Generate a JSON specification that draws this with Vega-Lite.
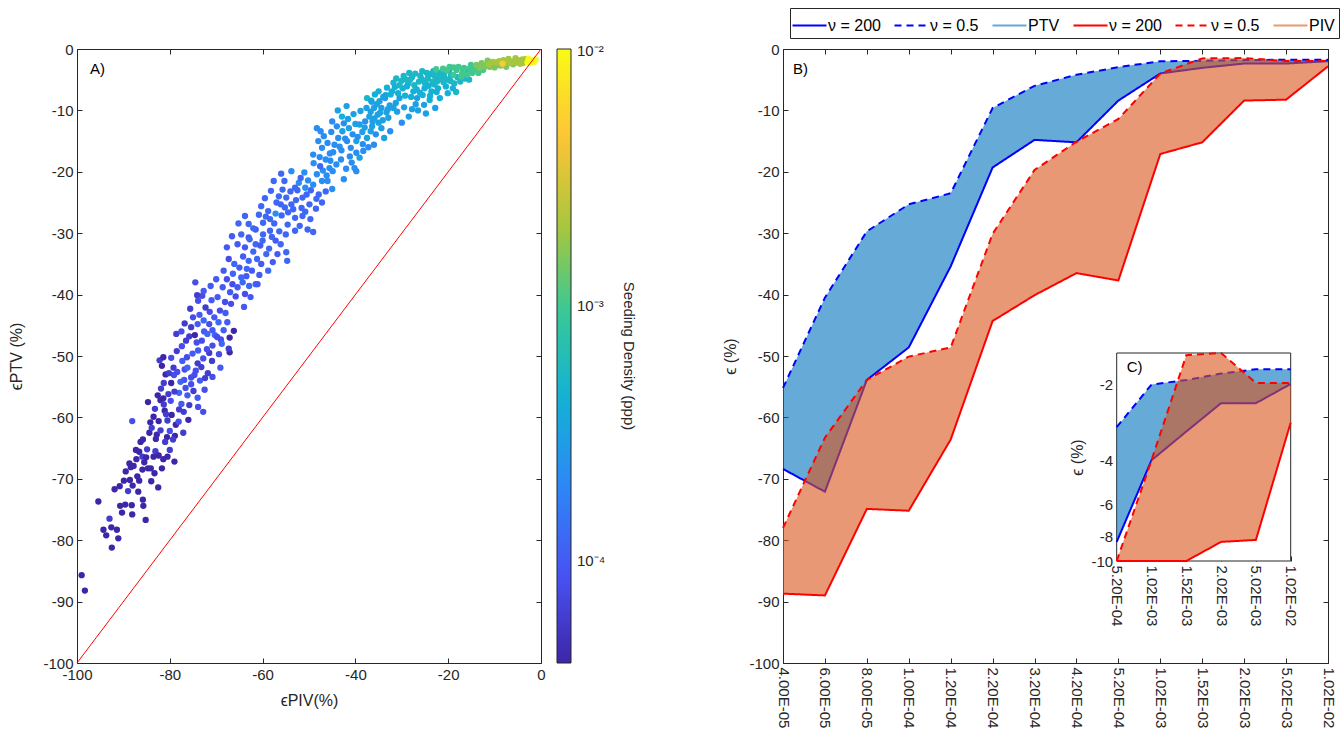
{
"$schema": "https://vega.github.io/schema/vega-lite/v6.json",
"autosize": {"type": "pad"},
"padding": {"left": 8, "top": 7, "right": 5, "bottom": 5},
"background": "white",
"config": {
  "font": "Liberation Sans",
  "view": {"stroke": "#262626", "strokeWidth": 1},
  "axis": {"grid": false, "domain": false, "labelFlush": false, "tickColor": "#262626", "tickSize": -5, "labelFont": "Liberation Sans", "labelFontSize": 15, "labelColor": "#262626", "labelPadding": 9, "titleFont": "Liberation Sans", "titleFontSize": 16, "titleFontWeight": "normal", "titleColor": "#262626"},
  "legend": {"labelFont": "Liberation Sans", "titleFont": "Liberation Sans"}
},
"datasets": {
  "bdata": [
    {"i":0,"c":"4.00E-05","PTV200":-68.4,"PTV05":-55.2,"PIV200":-88.7,"PIV05":-78.0},
    {"i":1,"c":"6.00E-05","PTV200":-72.1,"PTV05":-40.5,"PIV200":-89.0,"PIV05":-63.3},
    {"i":2,"c":"8.00E-05","PTV200":-53.9,"PTV05":-29.7,"PIV200":-74.9,"PIV05":-53.9},
    {"i":3,"c":"1.00E-04","PTV200":-48.6,"PTV05":-25.3,"PIV200":-75.2,"PIV05":-50.1},
    {"i":4,"c":"1.20E-04","PTV200":-35.4,"PTV05":-23.5,"PIV200":-63.6,"PIV05":-48.6},
    {"i":5,"c":"2.20E-04","PTV200":-19.3,"PTV05":-9.6,"PIV200":-44.3,"PIV05":-30.1},
    {"i":6,"c":"3.20E-04","PTV200":-14.8,"PTV05":-6.0,"PIV200":-40.1,"PIV05":-19.7},
    {"i":7,"c":"4.20E-04","PTV200":-15.2,"PTV05":-4.2,"PIV200":-36.5,"PIV05":-15.1},
    {"i":8,"c":"5.20E-04","PTV200":-8.4,"PTV05":-2.95,"PIV200":-37.7,"PIV05":-11.4},
    {"i":9,"c":"1.02E-03","PTV200":-3.99,"PTV05":-2.0,"PIV200":-17.1,"PIV05":-3.99},
    {"i":10,"c":"1.52E-03","PTV200":-3.07,"PTV05":-1.92,"PIV200":-15.2,"PIV05":-1.53},
    {"i":11,"c":"2.02E-03","PTV200":-2.37,"PTV05":-1.81,"PIV200":-8.4,"PIV05":-1.48},
    {"i":12,"c":"5.02E-03","PTV200":-2.37,"PTV05":-1.74,"PIV200":-8.25,"PIV05":-1.97},
    {"i":13,"c":"1.02E-02","PTV200":-1.99,"PTV05":-1.74,"PIV200":-2.83,"PIV05":-1.97}
  ]
},
"hconcat": [
{
  "width": 464, "height": 614,
  "layer": [
    {
      "data": {"values": [
{"x":-99.0,"y":-85.7,"d":4e-5},{"x":-98.3,"y":-88.2,"d":4e-5},{"x":-95.4,"y":-73.7,"d":4e-5},{"x":-94.3,"y":-78.3,"d":4e-5},{"x":-93.7,"y":-79.2,"d":4e-5},{"x":-93.0,"y":-76.5,"d":6e-5},{"x":-92.6,"y":-77.9,"d":4e-5},{"x":-92.5,"y":-81.2,"d":4e-5},{"x":-91.4,"y":-78.3,"d":4e-5},{"x":-91.1,"y":-79.7,"d":4e-5},{"x":-91.9,"y":-71.7,"d":4e-5},{"x":-90.7,"y":-74.4,"d":4e-5},{"x":-90.3,"y":-75.5,"d":4e-5},{"x":-89.9,"y":-70.3,"d":4e-5},{"x":-89.6,"y":-74.2,"d":4e-5},{"x":-89.0,"y":-72.0,"d":6e-5},{"x":-88.6,"y":-70.2,"d":4e-5},{"x":-88.2,"y":-74.3,"d":4e-5},{"x":-88.1,"y":-75.8,"d":4e-5},{"x":-88.0,"y":-71.1,"d":4e-5},{"x":-85.8,"y":-73.4,"d":4e-5},{"x":-85.7,"y":-74.4,"d":4e-5},{"x":-85.2,"y":-76.7,"d":4e-5},{"x":-82.5,"y":-71.4,"d":4e-5},{"x":-86.6,"y":-70.3,"d":4e-5},{"x":-85.9,"y":-68.5,"d":4e-5},{"x":-84.7,"y":-68.3,"d":4e-5},{"x":-84.1,"y":-68.3,"d":4e-5},{"x":-85.5,"y":-67.3,"d":4e-5},{"x":-87.2,"y":-66.8,"d":4e-5},{"x":-87.3,"y":-65.3,"d":4e-5},{"x":-86.6,"y":-65.6,"d":4e-5},{"x":-85.9,"y":-66.4,"d":6e-5},{"x":-88.7,"y":-67.5,"d":4e-5},{"x":-88.4,"y":-68.1,"d":4e-5},{"x":-87.8,"y":-67.9,"d":4e-5},{"x":-85.1,"y":-66.5,"d":4e-5},{"x":-83.5,"y":-66.4,"d":4e-5},{"x":-83.1,"y":-65.5,"d":6e-5},{"x":-82.4,"y":-66.2,"d":4e-5},{"x":-81.7,"y":-68.3,"d":4e-5},{"x":-81.4,"y":-66.8,"d":4e-5},{"x":-80.5,"y":-66.4,"d":4e-5},{"x":-80.0,"y":-65.3,"d":6e-5},{"x":-79.0,"y":-67.2,"d":4e-5},
{"x":-90.8,"y":-71.2,"d":4e-5},{"x":-89.5,"y":-68.8,"d":4e-5},{"x":-87.0,"y":-69.6,"d":4e-5},{"x":-86.3,"y":-64.0,"d":4e-5},{"x":-84.9,"y":-65.2,"d":6e-5},{"x":-84.2,"y":-60.8,"d":4e-5},{"x":-83.2,"y":-58.6,"d":6e-5},{"x":-82.8,"y":-62.8,"d":4e-5},{"x":-82.0,"y":-57.2,"d":4e-5},{"x":-81.9,"y":-55.3,"d":6e-5},{"x":-80.9,"y":-53.0,"d":4e-5},{"x":-80.3,"y":-56.2,"d":6e-5},{"x":-79.6,"y":-59.6,"d":4e-5},{"x":-78.9,"y":-63.0,"d":4e-5},{"x":-84.0,"y":-70.4,"d":4e-5},{"x":-86.8,"y":-72.1,"d":4e-5},{"x":-83.3,"y":-69.1,"d":4e-5},{"x":-80.6,"y":-63.2,"d":4e-5},
{"x":-88.1,"y":-60.6,"d":8e-5},{"x":-85.8,"y":-63.6,"d":4e-5},{"x":-84.4,"y":-62.5,"d":4e-5},{"x":-83.9,"y":-61.7,"d":6e-5},{"x":-83.5,"y":-59.9,"d":4e-5},{"x":-82.4,"y":-60.6,"d":4e-5},{"x":-82.0,"y":-62.1,"d":6e-5},{"x":-84.7,"y":-57.5,"d":4e-5},{"x":-82.6,"y":-56.4,"d":4e-5},{"x":-81.4,"y":-56.9,"d":4e-5},{"x":-81.3,"y":-57.9,"d":6e-5},{"x":-81.1,"y":-58.9,"d":4e-5},{"x":-80.5,"y":-60.5,"d":6e-5},{"x":-80.0,"y":-62.2,"d":8e-5},{"x":-79.3,"y":-63.6,"d":6e-5},{"x":-78.7,"y":-61.2,"d":4e-5},{"x":-78.1,"y":-60.7,"d":8e-5},{"x":-77.0,"y":-59.1,"d":6e-5},{"x":-76.0,"y":-60.4,"d":4e-5},{"x":-77.1,"y":-62.5,"d":6e-5},{"x":-79.8,"y":-57.3,"d":8e-5},{"x":-79.7,"y":-54.4,"d":4e-5},{"x":-81.3,"y":-54.4,"d":6e-5},{"x":-79.1,"y":-53.1,"d":8e-5},{"x":-79.2,"y":-51.9,"d":6e-5},{"x":-81.7,"y":-51.6,"d":4e-5},{"x":-82.2,"y":-50.7,"d":6e-5},{"x":-81.4,"y":-50.2,"d":4e-5},{"x":-79.7,"y":-50.3,"d":8e-5},{"x":-78.5,"y":-49.2,"d":6e-5},{"x":-77.3,"y":-50.8,"d":1e-4},{"x":-76.8,"y":-52.2,"d":8e-5},{"x":-77.7,"y":-54.2,"d":1.2e-4},{"x":-76.6,"y":-55.2,"d":8e-5},{"x":-76.2,"y":-56.4,"d":1e-4},{"x":-75.4,"y":-54.6,"d":8e-5},{"x":-74.9,"y":-55.7,"d":6e-5},{"x":-74.4,"y":-52.4,"d":8e-5},{"x":-74.0,"y":-56.8,"d":1e-4},{"x":-73.9,"y":-58.3,"d":8e-5},{"x":-72.8,"y":-59.1,"d":8e-5},{"x":-74.0,"y":-51.2,"d":6e-5},{"x":-72.8,"y":-50.4,"d":8e-5},{"x":-70.8,"y":-53.4,"d":8e-5},{"x":-69.1,"y":-51.9,"d":1e-4},{"x":-71.5,"y":-49.5,"d":6e-5},{"x":-67.1,"y":-49.4,"d":4e-5},{"x":-76.2,"y":-51.9,"d":1.2e-4},{"x":-75.4,"y":-53.5,"d":8e-5},{"x":-78.0,"y":-56.0,"d":1.2e-4},{"x":-77.5,"y":-57.8,"d":1e-4},{"x":-75.8,"y":-58.0,"d":6e-5},{"x":-73.5,"y":-54.0,"d":1e-4},{"x":-72.5,"y":-55.5,"d":8e-5},{"x":-71.8,"y":-52.8,"d":6e-5},{"x":-80.8,"y":-59.5,"d":6e-5},{"x":-83.0,"y":-63.5,"d":4e-5},{"x":-81.0,"y":-64.0,"d":6e-5},
{"x":-79.0,"y":-55.8,"d":6e-5},{"x":-78.4,"y":-52.6,"d":8e-5},{"x":-78.0,"y":-58.7,"d":6e-5},{"x":-77.4,"y":-48.4,"d":8e-5},{"x":-76.9,"y":-53.9,"d":1e-4},{"x":-76.3,"y":-50.2,"d":8e-5},{"x":-75.8,"y":-46.8,"d":6e-5},{"x":-75.1,"y":-49.6,"d":1e-4},{"x":-74.7,"y":-53.1,"d":8e-5},{"x":-74.2,"y":-47.8,"d":8e-5},{"x":-73.6,"y":-43.3,"d":1e-4},{"x":-73.2,"y":-51.8,"d":6e-5},{"x":-72.6,"y":-46.0,"d":1e-4},{"x":-72.0,"y":-48.9,"d":8e-5},{"x":-71.4,"y":-42.8,"d":8e-5},{"x":-70.9,"y":-50.8,"d":6e-5},{"x":-70.3,"y":-46.6,"d":1.2e-4},{"x":-69.7,"y":-40.4,"d":1e-4},{"x":-69.0,"y":-47.3,"d":8e-5},{"x":-68.6,"y":-38.8,"d":1e-4},{"x":-68.1,"y":-41.2,"d":8e-5},{"x":-67.6,"y":-44.5,"d":1e-4},{"x":-67.0,"y":-39.6,"d":1e-4},{"x":-66.4,"y":-36.6,"d":1.2e-4},{"x":-65.8,"y":-40.3,"d":8e-5},{"x":-65.0,"y":-35.6,"d":1e-4},{"x":-64.3,"y":-38.0,"d":1.2e-4},{"x":-63.5,"y":-37.0,"d":1e-4},{"x":-62.9,"y":-38.6,"d":1.2e-4},{"x":-71.2,"y":-38.6,"d":1e-4},{"x":-73.0,"y":-40.2,"d":8e-5},{"x":-76.8,"y":-44.7,"d":6e-5},{"x":-78.6,"y":-46.4,"d":6e-5},{"x":-80.2,"y":-52.8,"d":6e-5},{"x":-72.4,"y":-53.6,"d":6e-5},{"x":-69.4,"y":-49.7,"d":8e-5},{"x":-66.2,"y":-45.9,"d":4e-5},{"x":-70.0,"y":-37.5,"d":1e-4},
{"x":-74.5,"y":-38.0,"d":8e-5},{"x":-74.1,"y":-40.1,"d":6e-5},{"x":-72.7,"y":-39.4,"d":1e-4},{"x":-73.9,"y":-41.0,"d":8e-5},{"x":-72.3,"y":-42.1,"d":6e-5},{"x":-71.0,"y":-40.9,"d":1e-4},{"x":-75.6,"y":-42.3,"d":6e-5},{"x":-75.0,"y":-43.7,"d":8e-5},{"x":-74.0,"y":-44.8,"d":1e-4},{"x":-72.7,"y":-44.2,"d":1.2e-4},{"x":-71.5,"y":-44.8,"d":8e-5},{"x":-70.4,"y":-43.7,"d":1e-4},{"x":-69.2,"y":-42.6,"d":8e-5},{"x":-75.4,"y":-45.3,"d":6e-5},{"x":-74.6,"y":-46.6,"d":4e-5},{"x":-73.1,"y":-47.5,"d":8e-5},{"x":-71.9,"y":-46.4,"d":1.2e-4},{"x":-70.8,"y":-45.8,"d":1e-4},{"x":-69.8,"y":-46.9,"d":8e-5},{"x":-68.4,"y":-45.8,"d":1e-4},{"x":-67.3,"y":-48.8,"d":6e-5},{"x":-73.9,"y":-49.1,"d":1e-4},{"x":-70.8,"y":-48.3,"d":8e-5},{"x":-68.8,"y":-48.0,"d":1.2e-4},{"x":-67.1,"y":-47.0,"d":4e-5},{"x":-76.5,"y":-47.5,"d":6e-5},{"x":-77.5,"y":-46.0,"d":8e-5},{"x":-69.5,"y":-44.5,"d":1.2e-4},{"x":-68.0,"y":-43.0,"d":1e-4},
{"x":-67.7,"y":-32.3,"d":1e-4},{"x":-67.3,"y":-34.2,"d":8e-5},{"x":-68.4,"y":-36.1,"d":1e-4},{"x":-67.7,"y":-37.5,"d":8e-5},{"x":-66.1,"y":-35.0,"d":1.2e-4},{"x":-65.4,"y":-31.8,"d":1e-4},{"x":-64.6,"y":-30.2,"d":1.2e-4},{"x":-63.8,"y":-32.3,"d":1e-4},{"x":-63.0,"y":-34.5,"d":1.2e-4},{"x":-62.3,"y":-36.1,"d":1e-4},{"x":-61.5,"y":-38.3,"d":1.2e-4},{"x":-62.6,"y":-40.4,"d":1e-4},{"x":-63.8,"y":-39.9,"d":8e-5},{"x":-65.4,"y":-38.8,"d":1e-4},{"x":-66.5,"y":-38.3,"d":8e-5},{"x":-64.6,"y":-37.2,"d":1.2e-4},{"x":-65.2,"y":-28.4,"d":1.2e-4},{"x":-63.0,"y":-30.7,"d":1e-4},{"x":-61.5,"y":-31.8,"d":1.2e-4},{"x":-59.9,"y":-30.2,"d":1.2e-4},{"x":-58.4,"y":-29.6,"d":1.2e-4},{"x":-57.2,"y":-31.2,"d":1e-4},{"x":-56.1,"y":-31.8,"d":1.2e-4},{"x":-54.9,"y":-33.1,"d":1.2e-4},{"x":-54.7,"y":-34.5,"d":1.2e-4},{"x":-56.8,"y":-33.4,"d":1e-4},{"x":-59.2,"y":-33.4,"d":1.2e-4},{"x":-60.3,"y":-35.0,"d":1e-4},{"x":-58.8,"y":-36.1,"d":1.2e-4},{"x":-61.1,"y":-38.3,"d":1e-4},{"x":-59.9,"y":-28.3,"d":1.2e-4},{"x":-58.4,"y":-27.7,"d":1.2e-4},{"x":-61.5,"y":-29.4,"d":1e-4},{"x":-63.0,"y":-28.5,"d":1.2e-4},{"x":-66.8,"y":-41.5,"d":8e-5},{"x":-64.0,"y":-42.0,"d":1e-4},{"x":-62.0,"y":-33.0,"d":1.2e-4},{"x":-60.5,"y":-32.0,"d":1e-4},
{"x":-64.2,"y":-33.8,"d":1e-4},{"x":-63.4,"y":-35.8,"d":1.2e-4},{"x":-62.8,"y":-31.0,"d":1.2e-4},{"x":-62.0,"y":-29.2,"d":1.2e-4},{"x":-61.2,"y":-34.2,"d":1.2e-4},{"x":-60.7,"y":-36.8,"d":1e-4},{"x":-60.0,"y":-31.2,"d":1.2e-4},{"x":-59.3,"y":-27.3,"d":1.2e-4},{"x":-58.6,"y":-32.5,"d":1.2e-4},{"x":-58.0,"y":-30.6,"d":1.2e-4},{"x":-57.5,"y":-28.4,"d":1.2e-4},{"x":-57.0,"y":-25.0,"d":1.2e-4},{"x":-56.4,"y":-29.7,"d":1.2e-4},{"x":-55.9,"y":-27.1,"d":1.2e-4},{"x":-55.2,"y":-25.8,"d":1.2e-4},{"x":-54.6,"y":-28.6,"d":1.2e-4},{"x":-54.0,"y":-23.2,"d":1.2e-4},{"x":-53.4,"y":-26.1,"d":1.2e-4},{"x":-52.8,"y":-24.6,"d":1.2e-4},{"x":-52.2,"y":-21.8,"d":2.2e-4},{"x":-51.6,"y":-25.9,"d":1.2e-4},{"x":-51.0,"y":-20.1,"d":2.2e-4},{"x":-50.2,"y":-21.4,"d":2.2e-4},{"x":-49.6,"y":-23.0,"d":1.2e-4},{"x":-49.0,"y":-18.6,"d":2.2e-4},{"x":-48.4,"y":-24.4,"d":1.2e-4},{"x":-47.7,"y":-17.6,"d":2.2e-4},{"x":-47.0,"y":-19.8,"d":2.2e-4},{"x":-46.2,"y":-20.6,"d":2.2e-4},{"x":-45.4,"y":-18.2,"d":2.2e-4},{"x":-56.0,"y":-20.3,"d":1.2e-4},{"x":-58.2,"y":-23.1,"d":1.2e-4},{"x":-59.5,"y":-24.3,"d":1.2e-4},{"x":-60.8,"y":-27.0,"d":1.2e-4},{"x":-63.8,"y":-27.2,"d":1.2e-4},{"x":-66.6,"y":-30.5,"d":1e-4},{"x":-52.0,"y":-28.8,"d":1.2e-4},{"x":-50.8,"y":-26.5,"d":1.2e-4},{"x":-55.0,"y":-30.2,"d":1.2e-4},{"x":-57.8,"y":-34.7,"d":1e-4},
{"x":-60.3,"y":-25.6,"d":1.2e-4},{"x":-58.8,"y":-26.4,"d":1.2e-4},{"x":-57.2,"y":-26.8,"d":2.2e-4},{"x":-56.1,"y":-25.3,"d":1.2e-4},{"x":-54.9,"y":-24.2,"d":1.2e-4},{"x":-53.8,"y":-25.3,"d":1.2e-4},{"x":-54.5,"y":-26.6,"d":1.2e-4},{"x":-53.0,"y":-27.5,"d":1.2e-4},{"x":-51.4,"y":-27.2,"d":1.2e-4},{"x":-53.0,"y":-29.6,"d":1.2e-4},{"x":-50.3,"y":-29.4,"d":1.2e-4},{"x":-49.7,"y":-27.7,"d":1.2e-4},{"x":-49.1,"y":-29.8,"d":1.2e-4},{"x":-57.6,"y":-21.5,"d":1.2e-4},{"x":-55.3,"y":-21.5,"d":1.2e-4},{"x":-55.7,"y":-22.9,"d":1.2e-4},{"x":-53.8,"y":-19.9,"d":2.2e-4},{"x":-53.0,"y":-22.6,"d":1.2e-4},{"x":-51.8,"y":-21.0,"d":1.2e-4},{"x":-50.8,"y":-22.6,"d":2.2e-4},{"x":-50.5,"y":-23.7,"d":1.2e-4},{"x":-49.1,"y":-22.1,"d":2.2e-4},{"x":-47.9,"y":-23.7,"d":1.2e-4},{"x":-47.2,"y":-25.0,"d":1.2e-4},{"x":-48.3,"y":-20.4,"d":2.2e-4},{"x":-47.2,"y":-21.5,"d":2.2e-4},{"x":-46.0,"y":-21.5,"d":2.2e-4},{"x":-46.4,"y":-23.2,"d":1.2e-4},{"x":-49.9,"y":-25.3,"d":1.2e-4},{"x":-51.4,"y":-24.2,"d":1.2e-4},{"x":-52.5,"y":-23.0,"d":1.2e-4},{"x":-56.5,"y":-24.0,"d":1.2e-4},{"x":-48.5,"y":-26.0,"d":1.2e-4},{"x":-45.0,"y":-22.8,"d":2.2e-4},
{"x":-49.1,"y":-17.2,"d":2.2e-4},{"x":-48.3,"y":-12.9,"d":2.2e-4},{"x":-47.2,"y":-16.1,"d":2.2e-4},{"x":-46.4,"y":-18.0,"d":2.2e-4},{"x":-47.6,"y":-19.1,"d":1.2e-4},{"x":-45.6,"y":-19.4,"d":2.2e-4},{"x":-44.5,"y":-15.6,"d":2.2e-4},{"x":-43.7,"y":-14.5,"d":2.2e-4},{"x":-42.8,"y":-13.4,"d":3.2e-4},{"x":-42.5,"y":-21.2,"d":2.2e-4},{"x":-44.1,"y":-18.8,"d":2.2e-4},{"x":-44.9,"y":-19.9,"d":2.2e-4},{"x":-42.9,"y":-11.0,"d":4.2e-4},{"x":-42.5,"y":-12.1,"d":2.2e-4},{"x":-41.4,"y":-12.9,"d":3.2e-4},{"x":-40.6,"y":-13.9,"d":2.2e-4},{"x":-41.8,"y":-15.0,"d":2.2e-4},{"x":-39.8,"y":-15.0,"d":3.2e-4},{"x":-41.0,"y":-16.1,"d":2.2e-4},{"x":-39.8,"y":-16.9,"d":2.2e-4},{"x":-39.1,"y":-17.7,"d":3.2e-4},{"x":-38.3,"y":-16.6,"d":2.2e-4},{"x":-37.5,"y":-14.5,"d":3.2e-4},{"x":-36.7,"y":-13.4,"d":3.2e-4},{"x":-39.1,"y":-12.3,"d":3.2e-4},{"x":-37.9,"y":-11.8,"d":2.2e-4},{"x":-36.3,"y":-11.8,"d":3.2e-4},{"x":-35.2,"y":-10.7,"d":3.2e-4},{"x":-36.7,"y":-10.2,"d":3.2e-4},{"x":-37.5,"y":-8.0,"d":5.2e-4},{"x":-36.0,"y":-9.6,"d":3.2e-4},{"x":-34.4,"y":-9.6,"d":3.2e-4},{"x":-33.6,"y":-8.0,"d":3.2e-4},{"x":-32.9,"y":-11.2,"d":3.2e-4},{"x":-34.4,"y":-12.9,"d":3.2e-4},{"x":-35.6,"y":-13.9,"d":2.2e-4},{"x":-33.8,"y":-14.5,"d":3.2e-4},{"x":-32.5,"y":-13.4,"d":2.2e-4},{"x":-36.0,"y":-15.6,"d":2.2e-4},{"x":-39.8,"y":-19.9,"d":2.2e-4},{"x":-40.2,"y":-19.4,"d":2.2e-4},{"x":-45.5,"y":-17.0,"d":2.2e-4},{"x":-43.0,"y":-16.5,"d":2.2e-4},{"x":-38.5,"y":-13.5,"d":3.2e-4},{"x":-35.0,"y":-12.0,"d":3.2e-4},
{"x":-46.8,"y":-14.2,"d":2.2e-4},{"x":-46.0,"y":-15.3,"d":2.2e-4},{"x":-45.2,"y":-13.5,"d":2.2e-4},{"x":-44.8,"y":-16.8,"d":2.2e-4},{"x":-44.0,"y":-12.6,"d":2.2e-4},{"x":-43.4,"y":-15.9,"d":2.2e-4},{"x":-43.1,"y":-18.0,"d":2.2e-4},{"x":-42.2,"y":-14.6,"d":2.2e-4},{"x":-41.6,"y":-11.4,"d":3.2e-4},{"x":-41.2,"y":-17.5,"d":2.2e-4},{"x":-40.4,"y":-10.6,"d":3.2e-4},{"x":-40.0,"y":-12.2,"d":3.2e-4},{"x":-39.5,"y":-14.3,"d":2.2e-4},{"x":-38.9,"y":-10.1,"d":3.2e-4},{"x":-38.0,"y":-12.8,"d":3.2e-4},{"x":-37.6,"y":-9.6,"d":3.2e-4},{"x":-37.0,"y":-11.0,"d":3.2e-4},{"x":-36.4,"y":-12.6,"d":3.2e-4},{"x":-35.9,"y":-11.3,"d":3.2e-4},{"x":-35.4,"y":-9.0,"d":3.2e-4},{"x":-34.7,"y":-10.4,"d":3.2e-4},{"x":-34.1,"y":-11.6,"d":3.2e-4},{"x":-33.3,"y":-10.3,"d":3.2e-4},{"x":-32.6,"y":-9.2,"d":3.2e-4},{"x":-31.8,"y":-9.6,"d":3.2e-4},{"x":-42.0,"y":-19.5,"d":2.2e-4},{"x":-40.8,"y":-18.5,"d":2.2e-4},{"x":-45.0,"y":-11.8,"d":2.2e-4},{"x":-47.5,"y":-13.4,"d":2.2e-4},{"x":-48.0,"y":-15.0,"d":2.2e-4},{"x":-43.8,"y":-10.0,"d":3.2e-4},{"x":-41.9,"y":-9.3,"d":3.2e-4},{"x":-38.4,"y":-15.5,"d":2.2e-4},{"x":-37.2,"y":-16.0,"d":2.2e-4},{"x":-36.6,"y":-8.4,"d":4.2e-4},
{"x":-32.1,"y":-6.9,"d":4.2e-4},{"x":-31.3,"y":-8.8,"d":3.2e-4},{"x":-30.5,"y":-8.0,"d":3.2e-4},{"x":-29.8,"y":-6.4,"d":4.2e-4},{"x":-28.6,"y":-5.6,"d":5.2e-4},{"x":-27.5,"y":-6.9,"d":4.2e-4},{"x":-26.7,"y":-8.0,"d":3.2e-4},{"x":-26.3,"y":-5.3,"d":5.2e-4},{"x":-25.1,"y":-6.4,"d":4.2e-4},{"x":-24.4,"y":-4.8,"d":5.2e-4},{"x":-23.6,"y":-6.9,"d":4.2e-4},{"x":-22.8,"y":-9.6,"d":3.2e-4},{"x":-22.4,"y":-5.3,"d":5.2e-4},{"x":-21.3,"y":-4.2,"d":5.2e-4},{"x":-20.5,"y":-6.1,"d":4.2e-4},{"x":-20.1,"y":-7.2,"d":4.2e-4},{"x":-33.5,"y":-7.5,"d":3.2e-4},{"x":-34.8,"y":-8.5,"d":3.2e-4},{"x":-31.0,"y":-10.2,"d":3.2e-4},{"x":-29.5,"y":-9.5,"d":3.2e-4},{"x":-28.0,"y":-7.8,"d":4.2e-4},{"x":-27.0,"y":-9.0,"d":3.2e-4},{"x":-25.5,"y":-7.5,"d":4.2e-4},{"x":-24.0,"y":-8.3,"d":4.2e-4},{"x":-23.0,"y":-5.8,"d":5.2e-4},{"x":-30.5,"y":-5.9,"d":5.2e-4},{"x":-29.0,"y":-5.0,"d":5.2e-4},{"x":-27.8,"y":-4.6,"d":5.2e-4},{"x":-26.0,"y":-4.4,"d":5.2e-4},{"x":-25.0,"y":-5.6,"d":5.2e-4},{"x":-23.8,"y":-4.1,"d":5.2e-4},{"x":-22.0,"y":-4.6,"d":5.2e-4},{"x":-21.0,"y":-5.4,"d":5.2e-4},{"x":-19.5,"y":-5.2,"d":5.2e-4},{"x":-31.8,"y":-5.5,"d":5.2e-4},{"x":-33.0,"y":-9.8,"d":3.2e-4},{"x":-24.8,"y":-10.5,"d":3.2e-4},{"x":-26.5,"y":-10.0,"d":3.2e-4},{"x":-28.5,"y":-11.0,"d":3.2e-4},{"x":-30.0,"y":-12.0,"d":2.2e-4},{"x":-21.8,"y":-8.0,"d":4.2e-4},{"x":-19.0,"y":-6.4,"d":4.2e-4},{"x":-18.3,"y":-7.0,"d":5.2e-4},{"x":-35.0,"y":-6.9,"d":4.2e-4},
{"x":-34.0,"y":-7.8,"d":3.2e-4},{"x":-33.2,"y":-6.3,"d":4.2e-4},{"x":-32.4,"y":-7.4,"d":4.2e-4},{"x":-31.5,"y":-6.2,"d":4.2e-4},{"x":-30.8,"y":-7.2,"d":4.2e-4},{"x":-30.1,"y":-5.2,"d":5.2e-4},{"x":-29.3,"y":-7.6,"d":4.2e-4},{"x":-28.9,"y":-6.1,"d":4.2e-4},{"x":-28.2,"y":-5.0,"d":5.2e-4},{"x":-27.3,"y":-5.9,"d":5.2e-4},{"x":-26.8,"y":-6.6,"d":4.2e-4},{"x":-26.1,"y":-7.1,"d":4.2e-4},{"x":-25.7,"y":-4.9,"d":5.2e-4},{"x":-24.9,"y":-5.3,"d":5.2e-4},{"x":-24.2,"y":-6.0,"d":4.2e-4},{"x":-23.4,"y":-5.3,"d":5.2e-4},{"x":-22.9,"y":-4.4,"d":5.2e-4},{"x":-22.2,"y":-6.4,"d":4.2e-4},{"x":-21.6,"y":-4.9,"d":5.2e-4},{"x":-20.9,"y":-4.5,"d":5.2e-4},{"x":-20.2,"y":-5.0,"d":5.2e-4},{"x":-19.4,"y":-4.3,"d":5.2e-4},{"x":-18.7,"y":-5.6,"d":5.2e-4},{"x":-18.0,"y":-4.6,"d":5.2e-4},{"x":-16.4,"y":-4.8,"d":5.2e-4},{"x":-36.5,"y":-8.6,"d":3.2e-4},{"x":-35.8,"y":-7.4,"d":4.2e-4},{"x":-23.9,"y":-7.6,"d":4.2e-4},{"x":-22.5,"y":-7.0,"d":4.2e-4},{"x":-25.2,"y":-9.1,"d":3.2e-4},{"x":-27.8,"y":-9.8,"d":3.2e-4},
{"x":-31.2,"y":-4.8,"d":5.2e-4},{"x":-29.6,"y":-4.4,"d":5.2e-4},{"x":-28.4,"y":-3.9,"d":5.2e-4},{"x":-27.1,"y":-4.0,"d":5.2e-4},{"x":-25.6,"y":-3.6,"d":5.2e-4},{"x":-24.6,"y":-3.9,"d":5.2e-4},{"x":-23.2,"y":-3.6,"d":5.2e-4},{"x":-21.9,"y":-3.9,"d":5.2e-4},
{"x":-17.4,"y":-5.3,"d":5.2e-4},{"x":-19.8,"y":-3.5,"d":5.2e-4},{"x":-16.0,"y":-3.6,"d":5.2e-4},{"x":-20.8,"y":-3.8,"d":5.2e-4},{"x":-15.5,"y":-5.0,"d":5.2e-4},
{"x":-22.6,"y":-3.3,"d":1.02e-3},{"x":-21.1,"y":-3.2,"d":1.02e-3},{"x":-20.3,"y":-3.5,"d":1.02e-3},{"x":-19.7,"y":-2.9,"d":1.02e-3},{"x":-18.8,"y":-3.0,"d":1.02e-3},{"x":-17.2,"y":-4.5,"d":1.02e-3},{"x":-16.8,"y":-3.5,"d":1.02e-3},{"x":-15.4,"y":-3.2,"d":1.02e-3},{"x":-14.8,"y":-3.9,"d":1.02e-3},{"x":-14.1,"y":-3.0,"d":1.02e-3},
{"x":-18.9,"y":-4.2,"d":1.02e-3},{"x":-18.2,"y":-3.4,"d":1.02e-3},{"x":-16.6,"y":-3.1,"d":1.02e-3},{"x":-15.9,"y":-4.2,"d":1.02e-3},{"x":-15.1,"y":-2.6,"d":1.02e-3},{"x":-17.0,"y":-4.0,"d":1.02e-3},{"x":-14.5,"y":-3.3,"d":1.02e-3},{"x":-17.8,"y":-2.9,"d":1.02e-3},{"x":-13.5,"y":-3.9,"d":1.02e-3},{"x":-12.5,"y":-3.4,"d":1.02e-3},
{"x":-13.2,"y":-3.1,"d":1.52e-3},{"x":-12.2,"y":-2.7,"d":1.52e-3},{"x":-11.0,"y":-2.9,"d":1.52e-3},{"x":-10.2,"y":-2.5,"d":1.52e-3},{"x":-8.7,"y":-2.7,"d":1.52e-3},
{"x":-13.9,"y":-2.6,"d":1.52e-3},{"x":-12.8,"y":-2.3,"d":1.52e-3},{"x":-12.0,"y":-2.9,"d":1.52e-3},{"x":-10.0,"y":-3.0,"d":1.52e-3},{"x":-9.3,"y":-2.6,"d":1.52e-3},{"x":-7.5,"y":-2.9,"d":1.52e-3},{"x":-6.0,"y":-2.5,"d":1.52e-3},{"x":-11.5,"y":-1.9,"d":1.52e-3},
{"x":-9.6,"y":-2.2,"d":2.02e-3},{"x":-7.8,"y":-2.2,"d":2.02e-3},{"x":-6.9,"y":-2.0,"d":2.02e-3},{"x":-6.2,"y":-2.1,"d":2.02e-3},{"x":-5.3,"y":-2.2,"d":2.02e-3},{"x":-4.8,"y":-2.0,"d":2.02e-3},{"x":-3.9,"y":-2.3,"d":2.02e-3},{"x":-3.2,"y":-1.6,"d":2.02e-3},
{"x":-10.4,"y":-2.1,"d":2.02e-3},{"x":-11.2,"y":-2.5,"d":2.02e-3},{"x":-8.1,"y":-1.8,"d":2.02e-3},{"x":-6.6,"y":-2.3,"d":2.02e-3},{"x":-5.0,"y":-1.8,"d":2.02e-3},{"x":-3.5,"y":-2.1,"d":2.02e-3},{"x":-4.5,"y":-2.4,"d":2.02e-3},{"x":-9.0,"y":-2.0,"d":2.02e-3},{"x":-7.0,"y":-1.6,"d":2.02e-3},{"x":-5.5,"y":-1.5,"d":2.02e-3},{"x":-4.0,"y":-1.7,"d":2.02e-3},{"x":-3.0,"y":-1.9,"d":2.02e-3},
{"x":-8.3,"y":-2.4,"d":5.02e-3},
{"x":-2.9,"y":-2.2,"d":1.02e-2},{"x":-2.7,"y":-1.6,"d":1.02e-2},{"x":-2.2,"y":-1.8,"d":1.02e-2},{"x":-1.9,"y":-1.9,"d":1.02e-2},{"x":-1.5,"y":-2.1,"d":1.02e-2},{"x":-2.4,"y":-2.2,"d":1.02e-2},{"x":-1.2,"y":-1.7,"d":1.02e-2}
      ]},
      "mark": {"type": "circle", "size": 40, "opacity": 1},
      "encoding": {
        "x": {"field": "x", "type": "quantitative", "scale": {"domain": [-100, 0], "nice": false, "zero": false},
              "axis": {"orient": "bottom", "values": [-100, -80, -60, -40, -20, 0], "labelExpr": "'' + datum.value", "title": "ϵPIV(%)", "titlePadding": 10}},
        "y": {"field": "y", "type": "quantitative", "scale": {"domain": [-100, 0], "nice": false, "zero": false},
              "axis": {"orient": "left", "values": [0, -10, -20, -30, -40, -50, -60, -70, -80, -90, -100], "labelExpr": "'' + datum.value", "title": "ϵPTV (%)", "titlePadding": 18}},
        "color": {"field": "d", "type": "quantitative",
          "scale": {"type": "log", "domain": [4e-5, 8.83e-5, 1.949e-4, 4.3e-4, 9.49e-4, 2.095e-3, 4.622e-3, 1.02e-2],
                    "range": ["#3e26a8", "#4852f4", "#2e87f7", "#12b1d6", "#37c897", "#abc739", "#fec338", "#f9fb15"], "interpolate": "rgb"},
          "legend": {"orient": "right", "offset": 15, "padding": 0, "direction": "vertical", "gradientLength": 614, "gradientThickness": 14,
                     "gradientStrokeColor": "#262626", "gradientStrokeWidth": 1, "values": [1e-4, 1e-3, 1e-2],
                     "labelExpr": "datum.value < 5e-4 ? '10⁻⁴' : datum.value < 5e-3 ? '10⁻³' : '10⁻²'",
                     "labelFontSize": 15, "labelColor": "#262626", "labelOffset": 6, "labelOverlap": false,
                     "title": "Seeding Density (ppp)", "titleOrient": "right", "titleAnchor": "middle", "titleFontSize": 15,
                     "titleFontWeight": "normal", "titleColor": "#262626", "titlePadding": 16}}
      }
    },
    {
      "data": {"values": [{"x": -100, "y": -100}, {"x": 0, "y": 0}]},
      "mark": {"type": "line", "color": "#ff0000", "strokeWidth": 1},
      "encoding": {
        "x": {"field": "x", "type": "quantitative", "axis": {"orient": "top", "values": [-100, -80, -60, -40, -20, 0], "labels": false, "title": null}},
        "y": {"field": "y", "type": "quantitative", "axis": {"orient": "right", "values": [0, -10, -20, -30, -40, -50, -60, -70, -80, -90, -100], "labels": false, "title": null}}
      }
    },
    {
      "data": {"values": [{"x": -97.2, "y": -3.3, "t": "A)"}]},
      "mark": {"type": "text", "align": "left", "baseline": "middle", "fontSize": 15, "color": "#000000"},
      "encoding": {
        "x": {"field": "x", "type": "quantitative", "axis": null},
        "y": {"field": "y", "type": "quantitative", "axis": null},
        "text": {"field": "t"}
      }
    }
  ],
  "resolve": {"axis": {"x": "independent", "y": "independent"}}
},
{
  "width": 545, "height": 614,
  "layer": [
    {
      "layer": [
        {
          "data": {"name": "bdata"},
          "mark": {"type": "area", "color": "#0072bd", "opacity": 0.6},
          "encoding": {
            "x": {"field": "i", "type": "quantitative", "scale": {"domain": [0, 13], "nice": false, "zero": false},
                  "axis": {"orient": "bottom", "values": [0,1,2,3,4,5,6,7,8,9,10,11,12,13],
                           "labelExpr": "['4.00E-05','6.00E-05','8.00E-05','1.00E-04','1.20E-04','2.20E-04','3.20E-04','4.20E-04','5.20E-04','1.02E-03','1.52E-03','2.02E-03','5.02E-03','1.02E-02'][datum.value]",
                           "labelAngle": 90, "labelAlign": "left", "labelBaseline": "middle", "title": null}},
            "y": {"field": "PTV05", "type": "quantitative", "scale": {"domain": [-100, 0], "nice": false, "zero": false},
                  "axis": {"orient": "left", "values": [0, -10, -20, -30, -40, -50, -60, -70, -80, -90, -100], "labelExpr": "'' + datum.value", "title": "ϵ (%)", "titlePadding": 10}},
            "y2": {"field": "PTV200"}
          }
        },
        {
          "data": {"name": "bdata"},
          "transform": [{"fold": ["PTV200", "PTV05"], "as": ["key", "val"]}],
          "mark": {"type": "line", "strokeWidth": 2},
          "encoding": {
            "x": {"field": "i", "type": "quantitative", "axis": null},
            "y": {"field": "val", "type": "quantitative", "axis": null},
            "color": {"field": "key", "type": "nominal",
              "scale": {"domain": ["PTV200", "PTV05", "PTV", "PIV200", "PIV05", "PIV"], "range": ["#0000ff", "#0000ff", "#66aad7", "#ff0000", "#ff0000", "#e89875"]},
              "legend": {"orient": "none", "legendX": 7, "legendY": -41, "direction": "horizontal", "columns": 6, "gridAlign": "none", "title": null,
                "padding": 4, "strokeColor": "#262626", "fillColor": "white", "symbolType": "M-1.36,0H1.36", "symbolSize": 625, "symbolStrokeWidth": 2,
                "symbolOffset": 2, "labelOffset": 5, "columnPadding": 9, "labelFontSize": 16, "labelColor": "#000000",
                "labelExpr": "datum.value == 'PTV' || datum.value == 'PIV' ? datum.value : (indexof(datum.value, '200') > 0 ? 'ν = 200' : 'ν = 0.5')"}},
            "strokeDash": {"field": "key", "type": "nominal",
              "scale": {"domain": ["PTV200", "PTV05", "PTV", "PIV200", "PIV05", "PIV"], "range": [[1, 0], [7, 5], [1, 0], [1, 0], [7, 5], [1, 0]]}}
          }
        },
        {
          "data": {"name": "bdata"},
          "mark": {"type": "area", "color": "#d95319", "opacity": 0.6},
          "encoding": {
            "x": {"field": "i", "type": "quantitative", "axis": null},
            "y": {"field": "PIV05", "type": "quantitative", "axis": null},
            "y2": {"field": "PIV200"}
          }
        },
        {
          "data": {"name": "bdata"},
          "transform": [{"fold": ["PIV200", "PIV05"], "as": ["key", "val"]}],
          "mark": {"type": "line", "strokeWidth": 2},
          "encoding": {
            "x": {"field": "i", "type": "quantitative", "axis": null},
            "y": {"field": "val", "type": "quantitative", "axis": null},
            "color": {"field": "key", "type": "nominal", "legend": null},
            "strokeDash": {"field": "key", "type": "nominal", "legend": null}
          }
        },
        {
          "data": {"values": [{"i": 0, "v": -3.3, "t": "B)"}]},
          "mark": {"type": "text", "align": "left", "baseline": "middle", "fontSize": 15, "color": "#000000", "dx": 10},
          "encoding": {
            "x": {"field": "i", "type": "quantitative", "axis": {"orient": "top", "values": [0,1,2,3,4,5,6,7,8,9,10,11,12,13], "labels": false, "title": null}},
            "y": {"field": "v", "type": "quantitative", "axis": {"orient": "right", "values": [0, -10, -20, -30, -40, -50, -60, -70, -80, -90, -100], "labels": false, "title": null}},
            "text": {"field": "t"}
          }
        }
      ],
      "resolve": {"axis": {"x": "independent", "y": "independent"}}
    },
    {
      "layer": [
        {
          "data": {"values": [{}]},
          "mark": {"type": "rect", "fill": "white", "stroke": "#262626", "strokeWidth": 1},
          "encoding": {
            "x": {"datum": 8, "type": "quantitative", "title": null},
            "x2": {"datum": 13},
            "y": {"datum": -10, "type": "quantitative", "title": "ϵ (%)"},
            "y2": {"datum": -1.5}
          }
        },
        {
          "data": {"name": "bdata"},
          "transform": [{"filter": {"field": "i", "gte": 8}}],
          "mark": {"type": "area", "color": "#0072bd", "opacity": 0.6},
          "encoding": {
            "x": {"field": "i", "type": "quantitative", "title": null,
                  "scale": {"domain": [8, 13], "range": [333.7, 507.7], "nice": false, "zero": false},
                  "axis": {"orient": "bottom", "offset": -102, "values": [8,9,10,11,12,13],
                           "labelExpr": "['5.20E-04','1.02E-03','1.52E-03','2.02E-03','5.02E-03','1.02E-02'][datum.value - 8]",
                           "labelAngle": 90, "labelAlign": "left", "labelBaseline": "middle"}},
            "y": {"field": "PTV05", "type": "quantitative", "title": "ϵ (%)",
                  "scale": {"type": "log", "domain": [-10, -1.5], "range": [512, 304], "clamp": true, "nice": false},
                  "axis": {"orient": "left", "offset": -333.7, "values": [-10, -8, -6, -4, -2], "labelExpr": "'' + datum.value", "titlePadding": 6}},
            "y2": {"field": "PTV200"}
          }
        },
        {
          "data": {"name": "bdata"},
          "transform": [{"filter": {"field": "i", "gte": 8}}, {"fold": ["PTV200", "PTV05"], "as": ["key", "val"]}],
          "mark": {"type": "line", "strokeWidth": 2},
          "encoding": {
            "x": {"field": "i", "type": "quantitative", "title": null},
            "y": {"field": "val", "type": "quantitative", "title": "ϵ (%)"},
            "color": {"field": "key", "type": "nominal", "legend": null},
            "strokeDash": {"field": "key", "type": "nominal", "legend": null}
          }
        },
        {
          "data": {"name": "bdata"},
          "transform": [{"filter": {"field": "i", "gte": 8}}],
          "mark": {"type": "area", "color": "#d95319", "opacity": 0.6},
          "encoding": {
            "x": {"field": "i", "type": "quantitative", "title": null},
            "y": {"field": "PIV05", "type": "quantitative", "title": "ϵ (%)"},
            "y2": {"field": "PIV200"}
          }
        },
        {
          "data": {"name": "bdata"},
          "transform": [{"filter": {"field": "i", "gte": 8}}, {"fold": ["PIV200", "PIV05"], "as": ["key", "val"]}],
          "mark": {"type": "line", "strokeWidth": 2},
          "encoding": {
            "x": {"field": "i", "type": "quantitative", "title": null},
            "y": {"field": "val", "type": "quantitative", "title": "ϵ (%)"},
            "color": {"field": "key", "type": "nominal", "legend": null},
            "strokeDash": {"field": "key", "type": "nominal", "legend": null}
          }
        },
        {
          "data": {"values": [{"i": 8, "v": -1.7, "t": "C)"}]},
          "mark": {"type": "text", "align": "left", "baseline": "middle", "fontSize": 15, "color": "#000000", "dx": 10},
          "encoding": {
            "x": {"field": "i", "type": "quantitative", "title": null},
            "y": {"field": "v", "type": "quantitative", "title": "ϵ (%)"},
            "text": {"field": "t"}
          }
        }
      ]
    }
  ],
  "resolve": {"scale": {"x": "independent", "y": "independent"}}
}
],
"spacing": 242,
"bounds": "flush",
"resolve": {"scale": {"color": "independent", "strokeDash": "independent"}, "legend": {"color": "independent", "strokeDash": "independent"}}
}
